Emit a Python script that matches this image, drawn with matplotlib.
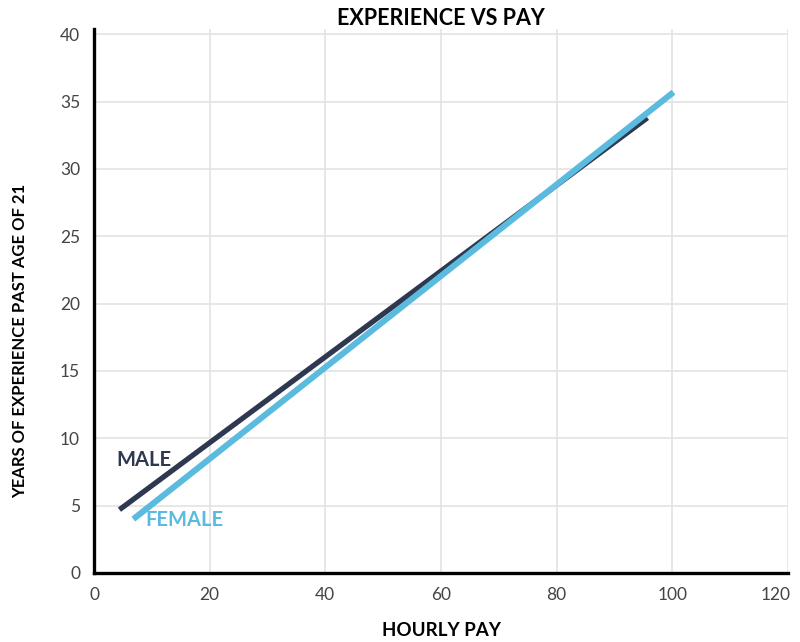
import matplotlib.pyplot as plt
from matplotlib.transforms import ScaledTranslation

# trend lines: (hourly pay, years of experience)
male_pay = [4.4, 95.7]
male_years = [4.7, 33.8]
female_pay = [6.8, 100.2]
female_years = [4.0, 35.7]

x_ticks = [0, 20, 40, 60, 80, 100, 120]
y_ticks = [0, 5, 10, 15, 20, 25, 30, 35, 40]

male_color = "#2e3850"
female_color = "#5bbbdf"

plt.rcParams["font.family"] = ["Lato", "DejaVu Sans"]

fig = plt.figure(figsize=(8, 6.42), dpi=100)
ax = fig.add_axes([0.1175, 0.1075, 0.8675, 0.8475])

ax.plot(male_pay, male_years, color=male_color, linewidth=3.8, solid_capstyle="butt", zorder=3)
ax.plot(female_pay, female_years, color=female_color, linewidth=4.4, solid_capstyle="butt", zorder=4)

ax.text(3.8, 8.4, "MALE", color=male_color, fontsize=14.5, fontweight="bold", va="center")
ax.text(8.9, 3.9, "FEMALE", color=female_color, fontsize=14.5, fontweight="bold", va="center")

ax.set_xlim(0.5, 119.2)
ax.set_ylim(0, 40.4)
ax.set_xticks(x_ticks)
ax.set_yticks(y_ticks)
ax.tick_params(length=0, labelsize=12.5, labelcolor="#444444", pad=10)
ax.grid(True, color="#e3e3e3", linewidth=1.2)
ax.set_axisbelow(True)

# nudge the last x label inward so it stays inside the figure
last = ax.get_xticklabels()[-1]
last.set_transform(last.get_transform() + ScaledTranslation(-9 / 72, 0, fig.dpi_scale_trans))

for side in ["top", "right"]:
    ax.spines[side].set_visible(False)
for side in ["left", "bottom"]:
    ax.spines[side].set_linewidth(2.4)
    ax.spines[side].set_color("black")

ax.set_title("EXPERIENCE VS PAY", fontsize=15.5, fontweight="bold", pad=3)
ax.set_xlabel("HOURLY PAY", fontsize=13.5, fontweight="bold", labelpad=14)
ax.set_ylabel("YEARS OF EXPERIENCE PAST AGE OF 21", fontsize=12, fontweight="bold", labelpad=16)
ax.yaxis.set_label_coords(-0.095, 0.426)

fig.savefig("out.png", dpi=100)
